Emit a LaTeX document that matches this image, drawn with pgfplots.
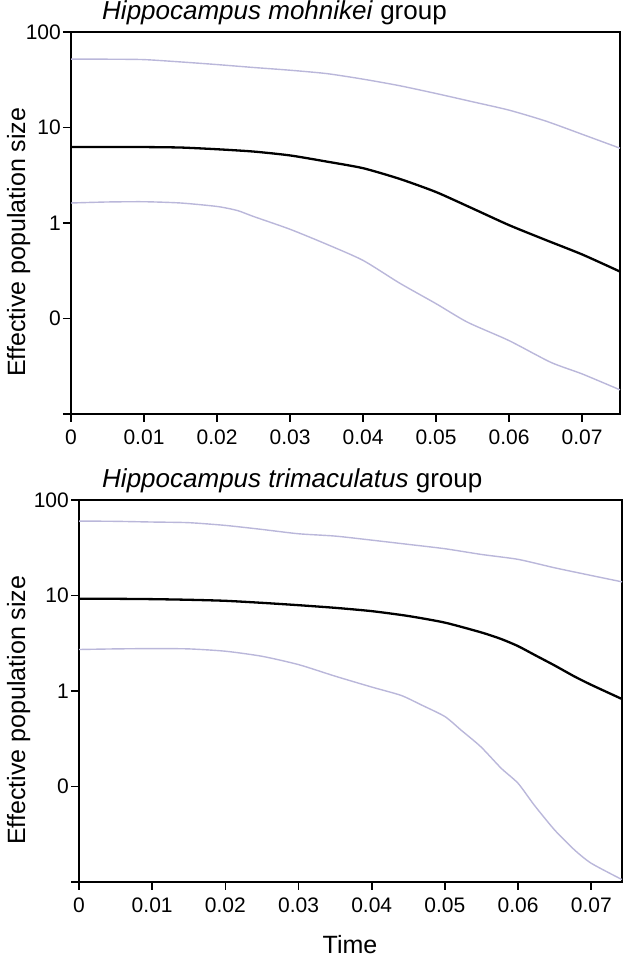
\documentclass[border=0pt]{standalone}
\usepackage{pgfplots}
\pgfplotsset{compat=1.18}
\usepackage{fontspec}
\setmainfont{Liberation Sans}
\definecolor{hpd}{RGB}{186,183,218}

\pgfplotsset{
  emp/.style={
    scale only axis,
    anchor=south west,
    height=382bp,
    ymin=0.01, ymax=100,
    xmin=0,
    ytick={0.01,0.1,1,10,100},
    yticklabels={,0,1,10,100},
    xtick={0,0.01,0.02,0.03,0.04,0.05,0.06,0.07},
    xticklabels={0,0.01,0.02,0.03,0.04,0.05,0.06,0.07},
    scaled x ticks=false,
    yminorticks=false,
    axis line style={line width=1.6bp, black},
    every tick/.style={line width=1.6bp, black},
    tick align=outside,
    major tick length=8bp,
    xtick pos=bottom, ytick pos=left,
    tick label style={font=\fontsize{21bp}{25bp}\selectfont},
    yticklabel style={inner sep=2bp},
    xticklabel style={inner sep=2bp, yshift=-6bp},
    clip=true,
  },
  hpdline/.style={hpd, line width=1.4bp, no markers, smooth, tension=0.4},
  medline/.style={black, line width=2.3bp, no markers, smooth, tension=0.4},
}

\begin{document}
\begin{tikzpicture}
\path[use as bounding box] (0,0) rectangle (630bp,960bp);

% ---------- top panel ----------
\begin{axis}[ymode=log, emp, at={(71bp,546bp)}, width=549bp, xmax=0.0752,
  title={\textit{Hippocampus mohnikei} group},
  title style={at={(0.0565,1)}, anchor=base west, yshift=7bp, inner sep=0pt,
    font=\fontsize{26bp}{30bp}\selectfont}]
\addplot[hpdline] coordinates {
(0,51.9) (0.005,51.9) (0.01,51.4) (0.015,48.6) (0.02,45.6) (0.025,42.5)
(0.03,39.8) (0.035,36.7) (0.04,32.1) (0.045,27.4) (0.05,22.7) (0.055,18.6)
(0.06,15.2) (0.065,11.7) (0.07,8.5) (0.0752,6.07)};
\addplot[medline] coordinates {
(0,6.26) (0.005,6.26) (0.01,6.24) (0.015,6.17) (0.02,5.92) (0.025,5.60)
(0.03,5.10) (0.035,4.40) (0.04,3.75) (0.045,2.90) (0.05,2.11) (0.055,1.42)
(0.06,0.95) (0.065,0.665) (0.07,0.469) (0.0752,0.31)};
\addplot[hpdline] coordinates {
(0,1.62) (0.005,1.66) (0.01,1.67) (0.015,1.62) (0.02,1.49) (0.0228,1.35)
(0.025,1.17) (0.03,0.860) (0.035,0.600) (0.04,0.406) (0.045,0.235)
(0.05,0.143) (0.0543,0.0915) (0.06,0.0587) (0.0657,0.0348) (0.07,0.0263)
(0.0752,0.0179)};
\end{axis}

% ---------- bottom panel ----------
\begin{axis}[ymode=log, emp, at={(79bp,78bp)}, width=543bp, xmax=0.0742,
  title={\textit{Hippocampus trimaculatus} group},
  title style={at={(0.0424,1)}, anchor=base west, yshift=7bp, inner sep=0pt,
    font=\fontsize{26bp}{30bp}\selectfont}]
\addplot[hpdline] coordinates {
(0,60.2) (0.005,59.8) (0.01,58.8) (0.015,57.9) (0.02,54.2) (0.025,49.2)
(0.03,44.3) (0.035,41.9) (0.04,38.0) (0.045,34.3) (0.05,30.9) (0.055,26.9)
(0.06,23.9) (0.065,19.5) (0.07,16.2) (0.0742,13.9)};
\addplot[medline] coordinates {
(0,9.23) (0.005,9.23) (0.01,9.16) (0.015,9.02) (0.02,8.80) (0.025,8.38)
(0.03,7.92) (0.035,7.43) (0.04,6.86) (0.045,6.1) (0.05,5.2) (0.055,4.1)
(0.0577,3.5) (0.06,2.95) (0.0622,2.4) (0.065,1.85) (0.0677,1.42)
(0.07,1.16) (0.0742,0.824)};
\addplot[hpdline] coordinates {
(0,2.72) (0.005,2.76) (0.01,2.78) (0.015,2.76) (0.02,2.61) (0.025,2.31)
(0.03,1.89) (0.035,1.43) (0.04,1.10) (0.044,0.90) (0.0467,0.72)
(0.05,0.54) (0.0522,0.39) (0.0549,0.261) (0.0577,0.155) (0.06,0.108)
(0.0622,0.064) (0.065,0.035) (0.0677,0.0217) (0.07,0.0157) (0.0742,0.0106)};
\end{axis}

% ---------- axis labels ----------
\node[rotate=90, anchor=base west, inner sep=0pt, font=\fontsize{25bp}{30bp}\selectfont]
  at (25bp,583bp) {Effective population size};
\node[rotate=90, anchor=base west, inner sep=0pt, font=\fontsize{25bp}{30bp}\selectfont]
  at (25bp,115bp) {Effective population size};
\node[anchor=base, inner sep=0pt, font=\fontsize{25bp}{30bp}\selectfont]
  at (350bp,7bp) {Time};
\end{tikzpicture}
\end{document}
